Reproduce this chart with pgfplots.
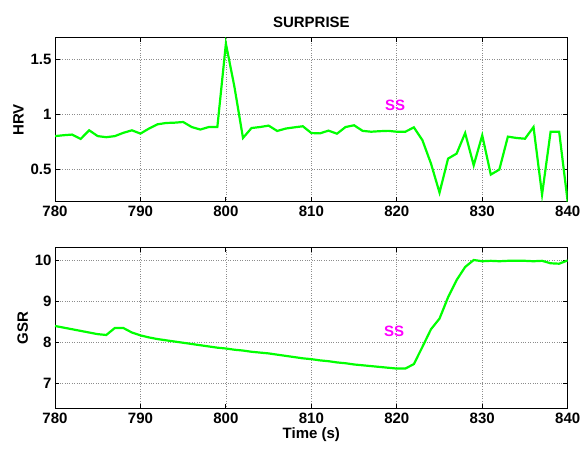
\documentclass[border=0pt]{standalone}
\usepackage{fontspec}
\setmainfont{Liberation Sans}
\usepackage{pgfplots}
\pgfplotsset{compat=1.18}

\definecolor{lgreen}{rgb}{0,1,0}
\definecolor{mag}{rgb}{1,0,1}

\pgfplotsset{
  mlab/.style={
    scale only axis, width=512.7pt,
    xmin=780, xmax=840, xtick={780,790,...,840},
    axis line style={line width=0.9pt},
    tick align=inside, major tick length=4.5pt,
    tick style={black, line width=0.8pt},
    grid=major, grid style={black!45, dotted, line width=0.7pt},
    every tick label/.append style={font=\bfseries\fontsize{15}{15}\selectfont},
    label style={font=\bfseries\fontsize{15}{15}\selectfont},
    /pgf/number format/assume math mode=true,
    xticklabel style={yshift=-1pt},
  },
}

\begin{document}
\begin{tikzpicture}
\path[use as bounding box] (0,0) rectangle (587pt,-448pt);

\begin{axis}[mlab,
  at={(55pt,-201.7pt)}, anchor=south west, height=164pt,
  ymin=0.2, ymax=1.7, ytick={0.5,1,1.5},
  ylabel={HRV},
  title={SURPRISE},
  title style={font=\bfseries\fontsize{15}{15}\selectfont, yshift=1pt},
]
\addplot[lgreen, line width=2.2pt] coordinates {
  (780,0.800) (781,0.808) (782,0.814) (783,0.774) (784,0.853) (785,0.800)
  (786,0.790) (787,0.800) (788,0.830) (789,0.853) (790,0.823) (791,0.869)
  (792,0.908) (793,0.920) (794,0.923) (795,0.929) (796,0.883) (797,0.860)
  (798,0.883) (799,0.883) (800,1.646) (801,1.250) (802,0.783) (803,0.874)
  (804,0.883) (805,0.896) (806,0.847) (807,0.869) (808,0.880) (809,0.890)
  (810,0.828) (811,0.825) (812,0.850) (813,0.822) (814,0.883) (815,0.899)
  (816,0.848) (817,0.840) (818,0.845) (819,0.848) (820,0.840) (821,0.840)
  (822,0.880) (823,0.762) (824,0.549) (825,0.283) (826,0.594) (827,0.640)
  (828,0.828) (829,0.533) (830,0.807) (831,0.448) (832,0.494) (833,0.795)
  (834,0.783) (835,0.776) (836,0.883) (837,0.265) (838,0.840) (839,0.840)
  (840,0.200)
};
\node[mag, font=\bfseries\fontsize{15}{15}\selectfont] at (axis cs:819.8,1.08) {SS};
\end{axis}

\begin{axis}[mlab,
  at={(55pt,-408.3pt)}, anchor=south west, height=161pt,
  ymin=6.4, ymax=10.33, ytick={7,8,9,10},
  ylabel={GSR}, xlabel={Time (s)},
  xlabel style={yshift=3pt},
]
\addplot[lgreen, line width=2.2pt] coordinates {
  (780,8.41) (781,8.37) (782,8.33) (783,8.29) (784,8.25) (785,8.21)
  (786,8.19) (787,8.36) (788,8.36) (789,8.25) (790,8.18) (791,8.13)
  (792,8.09) (793,8.06) (794,8.03) (795,8.00) (796,7.97) (797,7.94)
  (798,7.91) (799,7.88) (800,7.86) (801,7.83) (802,7.81) (803,7.78)
  (804,7.76) (805,7.74) (806,7.71) (807,7.68) (808,7.65) (809,7.62)
  (810,7.60) (811,7.57) (812,7.55) (813,7.52) (814,7.50) (815,7.47)
  (816,7.45) (817,7.43) (818,7.41) (819,7.39) (820,7.37) (821,7.37)
  (822,7.48) (823,7.90) (824,8.33) (825,8.59) (826,9.11) (827,9.53)
  (828,9.85) (829,10.02) (830,9.99) (831,10.00) (832,9.99) (833,10.00)
  (834,10.00) (835,10.00) (836,9.99) (837,10.00) (838,9.94) (839,9.93)
  (840,10.01)
};
\node[mag, font=\bfseries\fontsize{15}{15}\selectfont] at (axis cs:819.7,8.27) {SS};
\end{axis}
\end{tikzpicture}
\end{document}
